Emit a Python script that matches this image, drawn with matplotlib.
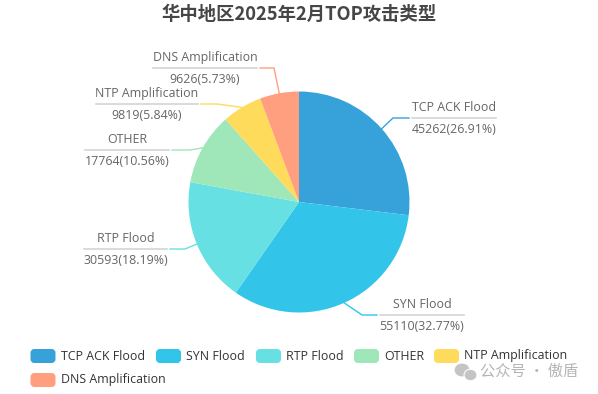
import numpy as np
from matplotlib import pyplot as plt
from matplotlib.patches import FancyBboxPatch, Ellipse

names = ['TCP ACK Flood', 'SYN Flood', 'RTP Flood', 'OTHER', 'NTP Amplification', 'DNS Amplification']
values = [45262, 55110, 30593, 17764, 9819, 9626]
percents = ['26.91', '32.77', '18.19', '10.56', '5.84', '5.73']
colors = ['#37A2DA', '#32C5E9', '#67E0E3', '#9FE6B8', '#FFDB5C', '#FF9F7F']

W, H = 598, 394
cx, cy, rad = 299, H - 202, 110.5

plt.rcParams['font.family'] = ['Open Sans', 'Noto Sans CJK SC', 'DejaVu Sans']

fig = plt.figure(figsize=(W / 100, H / 100), dpi=100)
ax = fig.add_axes([0, 0, 1, 1])

wedges, _ = ax.pie(values, colors=colors, startangle=90, counterclock=False,
                   center=(cx, cy), radius=rad)
ax.set_xlim(0, W)
ax.set_ylim(0, H)
ax.set_aspect('equal')
ax.axis('off')

ax.text(299, H - 14, '华中地区2025年2月TOP攻击类型', ha='center', va='center', fontsize=13.2,
        fontweight='bold', color='#464646', family=['Noto Sans CJK SC', 'DejaVu Sans'])

# label layout in pixels: rule left, rule right, rule y, knee x
rule_x0 = [412, 380, 84, 85, 96, 153]
rule_x1 = [496, 464, 167, 169, 198, 257]
rule_y = [118, 315, 249, 150, 104, 68]
knee_x = [393, 362, 185, 190, 217, 274]

for i, w in enumerate(wedges):
    y = H - rule_y[i]
    a = np.deg2rad((w.theta1 + w.theta2) / 2)
    sx, sy = cx + rad * np.cos(a), cy + rad * np.sin(a)
    if np.cos(a) > 0:
        end = rule_x0[i] - 3
    else:
        end = rule_x1[i] + 3
    ax.plot([sx, knee_x[i], end], [sy, y, y], color=colors[i], lw=1, solid_joinstyle='round', zorder=0)
    ax.plot([rule_x0[i], rule_x1[i]], [y, y], color='#D4D4D4', lw=1.2, zorder=1)
    mid = (rule_x0[i] + rule_x1[i]) / 2
    ax.text(mid, y + 10.5, names[i], ha='center', va='center', fontsize=8.9, color='#666666')
    ax.text(mid, y - 11, f'{values[i]}({percents[i]}%)', ha='center', va='center', fontsize=8.9, color='#666666')

# legend, drawn by hand because of the uneven wrap
leg_x = [30.5, 156, 256, 354, 434, 30.5]
leg_y = [356, 356, 356, 356, 356, 380]
for i in range(len(names)):
    y = H - leg_y[i]
    ax.add_patch(FancyBboxPatch((leg_x[i] + 2, y - 5), 21, 10, boxstyle='round,pad=0,rounding_size=2',
                                mutation_aspect=1, fc=colors[i], ec=colors[i], lw=4 * 0.72))
    ax.text(leg_x[i] + 30.5, y, names[i], ha='left', va='center', fontsize=8.9, color='#333333')

# watermark
ax.add_patch(Ellipse((462, H - 370), 16, 14, fc='#C4C4C4', ec='white', lw=0.8, zorder=4))
ax.add_patch(Ellipse((470.5, H - 375), 13, 11.5, fc='#C4C4C4', ec='white', lw=0.8, zorder=5))
ax.text(480, H - 371, '公众号 · 傲盾', ha='left', va='center', fontsize=11, color='#B5B5B5',
        family=['Noto Sans CJK SC', 'DejaVu Sans'], zorder=6)

fig.savefig('out.png', dpi=100)
